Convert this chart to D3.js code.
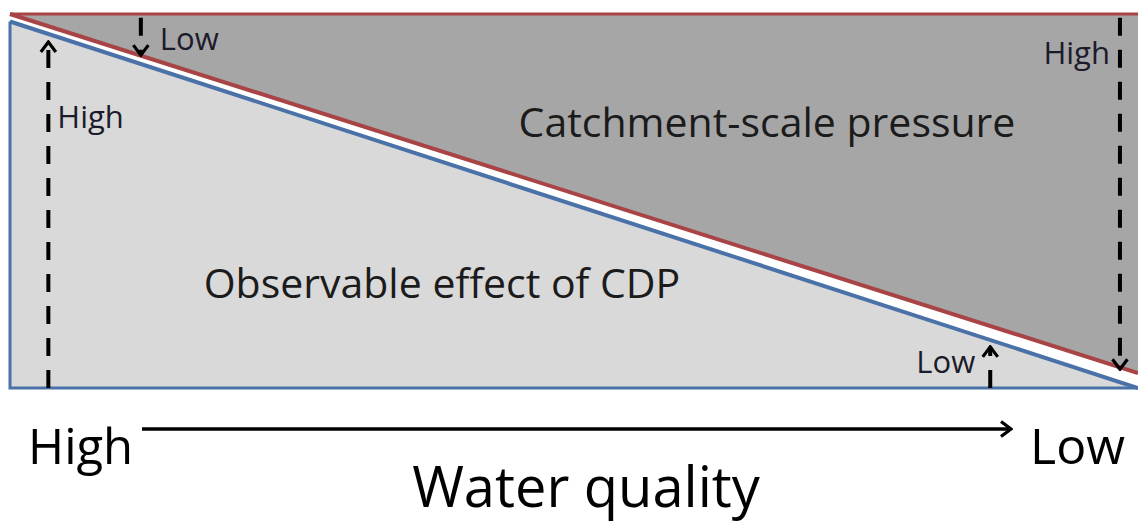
<!DOCTYPE html>
<html>
<head>
<meta charset="utf-8">
<script src="https://cdn.jsdelivr.net/npm/d3@7"></script>
<style>
  body { margin: 0; background: #fff; }
  svg { display: block; }
  text { font-family: "Open Sans", Lato, sans-serif; }
</style>
</head>
<body>
<div id="chart"></div>
<script>
// water quality goes from High (left) to Low (right), 0..100
var quality = ["High", "Low"];
var qualityPos = [0, 100];
// catchment-scale pressure boundary (red) and observable effect boundary (blue), 0..100
var pressureTop = [100, 100];
var pressureLine = [100, 4];
var effectLine = [98, 0];
// dashed indicator arrows: [x position, from level, to level, label]
var arrows = [
  {x: 3.4, from: 0, to: 92.5, label: "High"},
  {x: 11.6, from: 99, to: 89, label: "Low"},
  {x: 98.4, from: 99, to: 5, label: "High"},
  {x: 86.9, from: 0, to: 11, label: "Low"}
];

var width = 1138, height = 522;
var svg = d3.select("#chart").append("svg")
    .attr("width", width).attr("height", height);

var xScale = d3.scaleLinear().domain([0, 100]).range([10, 1138]);
var yScale = d3.scaleLinear().domain([0, 100]).range([388, 14]);

var defs = svg.append("defs");
defs.append("marker")
    .attr("id", "chev")
    .attr("viewBox", "-13 -10 15 20")
    .attr("refX", 0).attr("refY", 0)
    .attr("markerWidth", 15).attr("markerHeight", 20)
    .attr("markerUnits", "userSpaceOnUse")
    .attr("orient", "auto")
    .append("path")
    .attr("d", "M-10,-7.5 L0,0 L-10,7.5")
    .attr("fill", "none").attr("stroke", "#000").attr("stroke-width", 3.2);

// light region: below the effect line
svg.append("path")
    .attr("d", d3.area()
        .x(function(d, i){ return xScale(qualityPos[i]); })
        .y0(yScale(0))
        .y1(function(d){ return yScale(d); })(effectLine))
    .attr("fill", "#d9d9d9");

// dark region: between pressure top and pressure line
svg.append("path")
    .attr("d", d3.area()
        .x(function(d, i){ return xScale(qualityPos[i]); })
        .y0(function(d, i){ return yScale(pressureLine[i]); })
        .y1(function(d){ return yScale(d); })(pressureTop))
    .attr("fill", "#a6a6a6");

var line = d3.line()
    .x(function(d, i){ return xScale(qualityPos[i]); })
    .y(function(d){ return yScale(d); });

// blue frame: left side, bottom and effect diagonal
svg.append("path")
    .attr("d", "M" + xScale(0) + "," + yScale(effectLine[0]) +
               "L" + xScale(0) + "," + yScale(0) +
               "L" + xScale(100) + "," + yScale(0))
    .attr("fill", "none").attr("stroke", "#4a72a8").attr("stroke-width", 3);
svg.append("path")
    .attr("d", line(effectLine))
    .attr("fill", "none").attr("stroke", "#4a72a8").attr("stroke-width", 4);

// red boundary
svg.append("path")
    .attr("d", line(pressureTop))
    .attr("fill", "none").attr("stroke", "#a84446").attr("stroke-width", 3);
svg.append("path")
    .attr("d", line(pressureLine))
    .attr("fill", "none").attr("stroke", "#a84446").attr("stroke-width", 4);

// dashed arrows
svg.selectAll(".ind").data(arrows).enter().append("line")
    .attr("class", "ind")
    .attr("x1", function(d){ return xScale(d.x); })
    .attr("x2", function(d){ return xScale(d.x); })
    .attr("y1", function(d){ return yScale(d.from); })
    .attr("y2", function(d){ return yScale(d.to); })
    .attr("stroke", "#000").attr("stroke-width", 4)
    .attr("stroke-dasharray", "18,14")
    .attr("marker-end", "url(#chev)");

var labelPos = [
  {dx: 9, y: 128, anchor: "start"},
  {dx: 19, y: 50, anchor: "start"},
  {dx: -10, y: 64, anchor: "end"},
  {dx: -15, y: 373, anchor: "end"}
];
svg.selectAll(".indlab").data(arrows).enter().append("text")
    .attr("class", "indlab")
    .attr("x", function(d, i){ return xScale(d.x) + labelPos[i].dx; })
    .attr("y", function(d, i){ return labelPos[i].y; })
    .attr("text-anchor", function(d, i){ return labelPos[i].anchor; })
    .attr("font-size", 31)
    .attr("fill", "#1b1b2b")
    .text(function(d){ return d.label; });

svg.append("text")
    .attr("x", 767).attr("y", 137)
    .attr("text-anchor", "middle").attr("font-size", 41).attr("fill", "#1b1b1b")
    .text("Catchment-scale pressure");
svg.append("text")
    .attr("x", 442).attr("y", 298)
    .attr("text-anchor", "middle").attr("font-size", 41).attr("fill", "#1b1b1b")
    .text("Observable effect of CDP");

// water quality axis
svg.append("line")
    .attr("x1", 142).attr("x2", 1011)
    .attr("y1", 429).attr("y2", 429)
    .attr("stroke", "#000").attr("stroke-width", 3.5)
    .attr("marker-end", "url(#chev)");

svg.append("text")
    .attr("x", 28).attr("y", 464).attr("font-size", 49).attr("fill", "#000")
    .text(quality[0]);
svg.append("text")
    .attr("x", 1125).attr("y", 464).attr("text-anchor", "end").attr("font-size", 50).attr("fill", "#000")
    .text(quality[1]);
svg.append("text")
    .attr("x", 586).attr("y", 507).attr("text-anchor", "middle").attr("font-size", 56).attr("fill", "#000")
    .text("Water quality");
</script>
</body>
</html>
